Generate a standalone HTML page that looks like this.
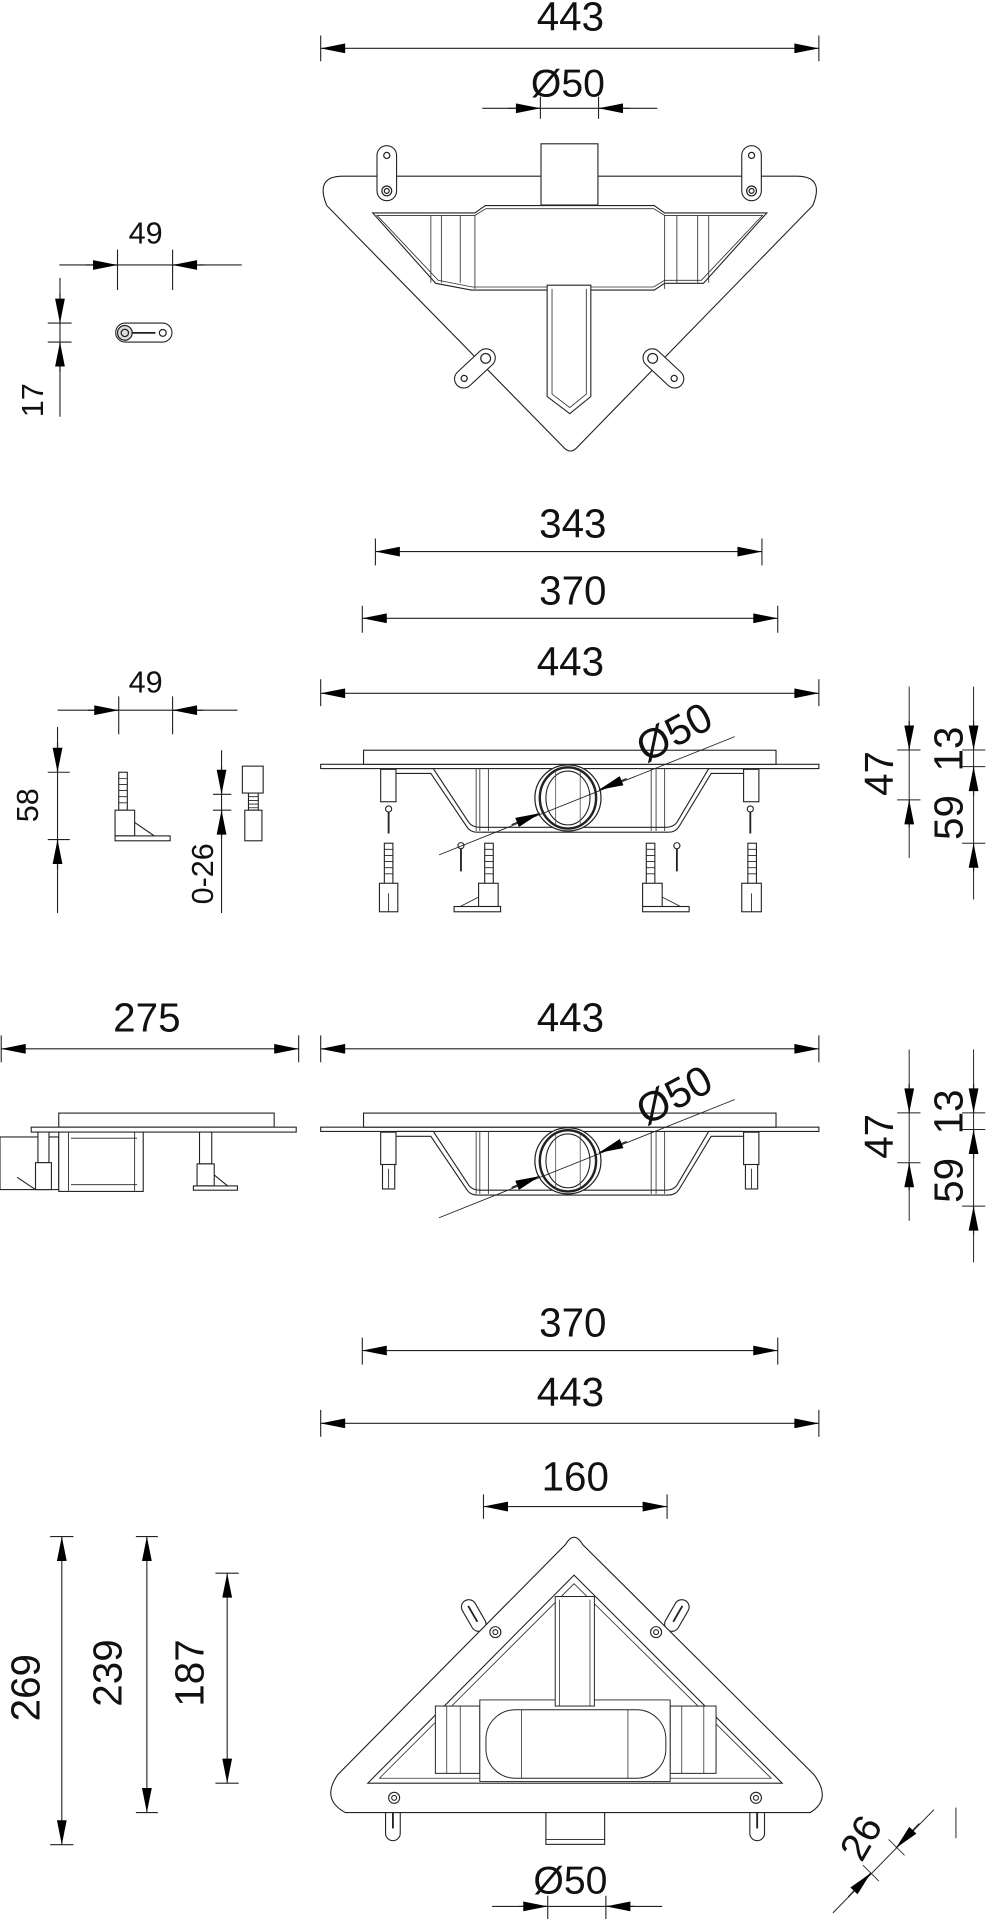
<!DOCTYPE html>
<html><head><meta charset="utf-8"><style>
html,body{margin:0;padding:0;background:#fff;}
svg{display:block;}
text{font-family:"Liberation Sans",Arial,sans-serif;fill:#111;}
</style></head><body>
<svg width="989" height="1919" viewBox="0 0 808 1568" preserveAspectRatio="none" xmlns="http://www.w3.org/2000/svg">
<defs>
<marker id="a" viewBox="0 0 10 4" refX="10" refY="2" markerWidth="23" markerHeight="8" markerUnits="userSpaceOnUse" orient="auto-start-reverse"><path d="M0,0L10,2L0,4z" fill="#000"/></marker>
<g id="body">
  <rect x="262" y="624.5" width="407" height="3.5" fill="#fff" stroke="#222" stroke-width="0.9"/>
  <rect x="297" y="613" width="337" height="11.5" fill="#fff" stroke="#222" stroke-width="0.9"/>
  <path d="M324,632 H352 L381,675 Q384,680 390,680 H546 Q552,680 555,675 L581,632 H607" fill="none" stroke="#222" stroke-width="0.9"/>
  <path d="M324,628 H354 L383,672 Q386,676 392,676 H544 Q550,676 553,672 L579,628 H607" fill="none" stroke="#222" stroke-width="0.9"/>
  <path d="M389,628V679M392,628V679M399,628V679M532,628V679M536,628V679M543,628V679" stroke="#333" stroke-width="0.7"/>
  <circle cx="464" cy="652" r="27" fill="#fff" stroke="#222" stroke-width="1"/>
  <ellipse cx="464" cy="652" rx="23" ry="25" fill="none" stroke="#222" stroke-width="2"/>
  <ellipse cx="464" cy="652" rx="18" ry="22" fill="#fff" stroke="#222" stroke-width="0.9"/>
  <path d="M454,630V674M474,630V674" stroke="#444" stroke-width="0.6"/>
  <rect x="311" y="628.6" width="12.5" height="26.5" fill="#fff" stroke="#222" stroke-width="0.9"/>
  <rect x="607.5" y="628.6" width="12.5" height="26.5" fill="#fff" stroke="#222" stroke-width="0.9"/>
</g>
</defs>

<!-- ============ SECTION 1 ============ -->
<text x="466" y="25" font-size="33" text-anchor="middle">443</text>
<path d="M262,29V50M669,29V50" stroke="#222" stroke-width="0.9"/>
<line x1="262" y1="39.5" x2="669" y2="39.5" stroke="#222" stroke-width="0.9" marker-start="url(#a)" marker-end="url(#a)"/>
<text x="464" y="79" font-size="32" text-anchor="middle">Ø50</text>
<path d="M441.5,79V97M489,79V97" stroke="#222" stroke-width="0.9"/>
<line x1="394" y1="88.5" x2="537" y2="88.5" stroke="#222" stroke-width="0.9"/>
<line x1="415" y1="88.5" x2="441.5" y2="88.5" stroke="#222" marker-end="url(#a)"/>
<line x1="515" y1="88.5" x2="489" y2="88.5" stroke="#222" marker-end="url(#a)"/>

<path d="M280,144 H651 Q674,144 664,168 L472,365 Q466,372 460,365 L267,168 Q257,144 280,144 Z" fill="#fff" stroke="#222" stroke-width="0.9"/>
<rect x="442" y="117.5" width="46.5" height="50" fill="#fff" stroke="#222" stroke-width="0.9"/>
<path d="M304.5,174 H388 L396.5,168 H534.5 L543,174 H626.5 L574.7,231.5 H543 L534.5,237 H385 L356,231.5 Z" fill="#fff" stroke="#222" stroke-width="0.9"/>
<path d="M308,176 H388 L397,170.5 H534 L543,176 H623 L573,229 H543 L534,234.5 H386 L358,229 Z" fill="none" stroke="#333" stroke-width="0.7"/>
<path d="M352,176V231M360.6,176V231M376,176V231M388,176V236M543,176V236M553,176V231M570,176V231M579,176V231" stroke="#333" stroke-width="0.7"/>
<path d="M447,233 V324 L465.5,338 L482.7,324 V233 Z" fill="#fff" stroke="#222" stroke-width="0.9"/>
<path d="M451,236 V322 L465.5,333 L479,322 V236" fill="none" stroke="#333" stroke-width="0.7"/>
<rect x="308" y="119" width="16" height="45" rx="8" fill="#fff" stroke="#222" stroke-width="0.9"/>
<circle cx="316" cy="127" r="2.5" fill="none" stroke="#222"/><circle cx="316" cy="156" r="4" fill="none" stroke="#222"/><circle cx="316" cy="156" r="2" fill="none" stroke="#222"/>
<rect x="606" y="119" width="16" height="45" rx="8" fill="#fff" stroke="#222" stroke-width="0.9"/>
<circle cx="614" cy="127" r="2.5" fill="none" stroke="#222"/><circle cx="614" cy="156" r="4" fill="none" stroke="#222"/><circle cx="614" cy="156" r="2" fill="none" stroke="#222"/>
<g transform="translate(388,301) rotate(-43)"><rect x="-20" y="-7.5" width="40" height="15" rx="7.5" fill="#fff" stroke="#222" stroke-width="0.9"/><circle cx="12" cy="0" r="4" fill="none" stroke="#222"/><circle cx="-12" cy="0" r="2.5" fill="none" stroke="#222"/></g>
<g transform="translate(542,301) rotate(43)"><rect x="-20" y="-7.5" width="40" height="15" rx="7.5" fill="#fff" stroke="#222" stroke-width="0.9"/><circle cx="-12" cy="0" r="4" fill="none" stroke="#222"/><circle cx="12" cy="0" r="2.5" fill="none" stroke="#222"/></g>

<!-- small part 49/17 -->
<text x="119" y="199" font-size="25" text-anchor="middle">49</text>
<path d="M96,204V237M141,204V237" stroke="#222" stroke-width="0.9"/>
<line x1="48.5" y1="216.5" x2="197.5" y2="216.5" stroke="#222" stroke-width="0.9"/>
<line x1="70" y1="216.5" x2="96" y2="216.5" stroke="#222" marker-end="url(#a)"/>
<line x1="167" y1="216.5" x2="141" y2="216.5" stroke="#222" marker-end="url(#a)"/>
<line x1="49" y1="227" x2="49" y2="340.5" stroke="#222" stroke-width="0.9"/>
<line x1="49" y1="240" x2="49" y2="264" stroke="#222" marker-end="url(#a)"/>
<line x1="49" y1="304" x2="49" y2="279.5" stroke="#222" marker-end="url(#a)"/>
<path d="M39,264H58.5M39,279.5H58.5" stroke="#222" stroke-width="0.9"/>
<text transform="translate(27,327) rotate(-90)" font-size="25" text-anchor="middle" dominant-baseline="central">17</text>
<rect x="94.5" y="264" width="46" height="15.5" rx="7.75" fill="#fff" stroke="#222" stroke-width="0.9"/>
<circle cx="102" cy="272" r="6" fill="#ddd" stroke="#222"/><circle cx="102" cy="272" r="3" fill="none" stroke="#222"/>
<circle cx="133" cy="272" r="2.8" fill="none" stroke="#222"/>
<path d="M108,272H127" stroke="#222" stroke-width="1.5"/>

<!-- ============ SECTION 2 ============ -->
<text x="468" y="439" font-size="33" text-anchor="middle">343</text>
<path d="M306.7,440V462M622.5,440V462" stroke="#222" stroke-width="0.9"/>
<line x1="306.7" y1="450.7" x2="622.5" y2="450.7" stroke="#222" stroke-width="0.9" marker-start="url(#a)" marker-end="url(#a)"/>
<text x="468" y="494" font-size="33" text-anchor="middle">370</text>
<path d="M296,495V517M635.4,495V517" stroke="#222" stroke-width="0.9"/>
<line x1="296" y1="505.2" x2="635.4" y2="505.2" stroke="#222" stroke-width="0.9" marker-start="url(#a)" marker-end="url(#a)"/>
<text x="466" y="552" font-size="33" text-anchor="middle">443</text>
<path d="M262,555V577M669,555V577" stroke="#222" stroke-width="0.9"/>
<line x1="262" y1="566.5" x2="669" y2="566.5" stroke="#222" stroke-width="0.9" marker-start="url(#a)" marker-end="url(#a)"/>

<use href="#body"/>
<g stroke="#222" stroke-width="0.9" fill="#fff">
  <path d="M317.5,662V681M613,662V681M376.6,692V712M553,692V712" stroke-width="1.5"/>
  <circle cx="317.5" cy="661" r="2.5"/><circle cx="613" cy="661" r="2.5"/><circle cx="376.6" cy="691" r="2.5"/><circle cx="553" cy="691" r="2.5"/>
  <rect x="314" y="689" width="7" height="33"/><rect x="396" y="689" width="7" height="33"/><rect x="528" y="689" width="7" height="33"/><rect x="611" y="689" width="7" height="33"/>
  <path d="M314,694H321M314,699H321M314,704H321M314,709H321M314,714H321M396,694H403M396,699H403M396,704H403M396,709H403M396,714H403M528,694H535M528,699H535M528,704H535M528,709H535M528,714H535M611,694H618M611,699H618M611,704H618M611,709H618M611,714H618" stroke-width="0.7"/>
  <rect x="310" y="721.7" width="15" height="23.3"/><rect x="606" y="721.7" width="16" height="23.3"/>
  <rect x="391" y="721.7" width="16" height="19"/><rect x="371" y="740.7" width="38" height="4.3"/>
  <rect x="525" y="721.7" width="16" height="19"/><rect x="525" y="740.7" width="38" height="4.3"/>
  <path d="M391,733L376,740.7M541,733L556,740.7M317.5,730V745M614,730V745" fill="none" stroke-width="0.7"/>
</g>
<line x1="358.7" y1="698.5" x2="600.3" y2="601.9" stroke="#222" stroke-width="0.7"/>
<line x1="418" y1="673.8" x2="441" y2="664.5" stroke="#222" marker-end="url(#a)"/>
<line x1="512" y1="636.2" x2="489.3" y2="645.4" stroke="#222" marker-end="url(#a)"/>
<text transform="translate(550.7,598) rotate(-28)" font-size="34" text-anchor="middle" dominant-baseline="central">Ø50</text>
<line x1="742.8" y1="561" x2="742.8" y2="701" stroke="#222" stroke-width="0.8"/>
<path d="M733,612.8H752M733,653.6H752" stroke="#222" stroke-width="0.8"/>
<line x1="742.8" y1="589" x2="742.8" y2="612.8" stroke="#222" marker-end="url(#a)"/>
<line x1="742.8" y1="676" x2="742.8" y2="653.6" stroke="#222" marker-end="url(#a)"/>
<text transform="translate(718,632) rotate(-90)" font-size="33" text-anchor="middle" dominant-baseline="central">47</text>
<line x1="795.4" y1="561" x2="795.4" y2="735" stroke="#222" stroke-width="0.8"/>
<path d="M786,612.8H805M786,626.4H805M786,689H805" stroke="#222" stroke-width="0.8"/>
<line x1="795.4" y1="589" x2="795.4" y2="612.8" stroke="#222" marker-end="url(#a)"/>
<line x1="795.4" y1="650" x2="795.4" y2="626.4" stroke="#222" marker-end="url(#a)"/>
<line x1="795.4" y1="712" x2="795.4" y2="689" stroke="#222" marker-end="url(#a)"/>
<text transform="translate(775,612) rotate(-90)" font-size="33" text-anchor="middle" dominant-baseline="central">13</text>
<text transform="translate(775,668) rotate(-90)" font-size="33" text-anchor="middle" dominant-baseline="central">59</text>

<text x="119" y="566" font-size="25" text-anchor="middle">49</text>
<path d="M97,569V600M141,569V600" stroke="#222" stroke-width="0.9"/>
<line x1="47" y1="580.3" x2="194" y2="580.3" stroke="#222" stroke-width="0.9"/>
<line x1="72" y1="580.3" x2="97" y2="580.3" stroke="#222" marker-end="url(#a)"/>
<line x1="166" y1="580.3" x2="141" y2="580.3" stroke="#222" marker-end="url(#a)"/>
<line x1="47" y1="594" x2="47" y2="746" stroke="#222" stroke-width="0.9"/>
<path d="M39,631H57M39,686H57" stroke="#222" stroke-width="0.9"/>
<line x1="47" y1="607" x2="47" y2="631" stroke="#222" marker-end="url(#a)"/>
<line x1="47" y1="710" x2="47" y2="686" stroke="#222" marker-end="url(#a)"/>
<text transform="translate(23,658) rotate(-90)" font-size="25" text-anchor="middle" dominant-baseline="central">58</text>
<g stroke="#222" stroke-width="0.9" fill="#fff">
  <rect x="97" y="631" width="7" height="31"/>
  <path d="M97,636H104M97,641H104M97,646H104M97,651H104M97,656H104" stroke-width="0.7"/>
  <rect x="94" y="662" width="16" height="21"/><rect x="94" y="683" width="45" height="4"/>
  <path d="M110,672L126,683" fill="none"/>
  <rect x="198" y="626" width="17" height="22"/><rect x="203" y="648" width="8" height="14"/>
  <path d="M203,651H211M203,654H211M203,657H211M203,660H211" stroke-width="0.7"/>
  <rect x="200" y="662" width="14" height="25"/>
</g>
<line x1="181" y1="613" x2="181" y2="746" stroke="#222" stroke-width="0.9"/>
<path d="M174,649H189M174,662H189" stroke="#222" stroke-width="0.9"/>
<line x1="181" y1="626" x2="181" y2="649" stroke="#222" marker-end="url(#a)"/>
<line x1="181" y1="685" x2="181" y2="662" stroke="#222" marker-end="url(#a)"/>
<text transform="translate(166,714) rotate(-90)" font-size="25" text-anchor="middle" dominant-baseline="central">0-26</text>

<!-- ============ SECTION 3 ============ -->
<text x="120" y="843" font-size="33" text-anchor="middle">275</text>
<path d="M1,846V868M244,846V868" stroke="#222" stroke-width="0.9"/>
<line x1="1" y1="857" x2="244" y2="857" stroke="#222" stroke-width="0.9" marker-start="url(#a)" marker-end="url(#a)"/>
<text x="466" y="843" font-size="33" text-anchor="middle">443</text>
<path d="M262,846V868M669,846V868" stroke="#222" stroke-width="0.9"/>
<line x1="262" y1="857" x2="669" y2="857" stroke="#222" stroke-width="0.9" marker-start="url(#a)" marker-end="url(#a)"/>

<g stroke="#222" stroke-width="0.9" fill="#fff">
  <rect x="48" y="909.5" width="176" height="11.5"/>
  <rect x="25.5" y="921" width="216.5" height="4"/>
  <rect x="0" y="929" width="48" height="43"/>
  <rect x="48" y="925" width="69" height="48.5"/>
  <path d="M58,930H112M58,968H112M56,925V973M110,925V973" fill="none" stroke-width="0.7"/>
  <rect x="31" y="925" width="9" height="25"/><rect x="29" y="950" width="13" height="22"/>
  <path d="M29,972L14,962" fill="none"/>
  <rect x="163" y="925" width="10" height="26"/><rect x="161" y="951" width="14" height="18"/><rect x="158" y="969" width="36" height="3.5"/>
  <path d="M175,960L186,969" fill="none"/>
</g>

<use href="#body" transform="translate(0,296.5)"/>
<g stroke="#222" stroke-width="0.9" fill="#fff">
  <rect x="312.5" y="951.5" width="10" height="20"/><rect x="609" y="951.5" width="10" height="20"/>
  <path d="M317.5,955V971M614,955V971" fill="none" stroke-width="0.7"/>
</g>
<line x1="358.7" y1="995" x2="600.3" y2="898.4" stroke="#222" stroke-width="0.7"/>
<line x1="418" y1="970.3" x2="441" y2="961" stroke="#222" marker-end="url(#a)"/>
<line x1="512" y1="932.7" x2="489.3" y2="941.9" stroke="#222" marker-end="url(#a)"/>
<text transform="translate(550.7,894.5) rotate(-28)" font-size="34" text-anchor="middle" dominant-baseline="central">Ø50</text>
<line x1="742.8" y1="857.5" x2="742.8" y2="997.5" stroke="#222" stroke-width="0.8"/>
<path d="M733,909.3H752M733,950.1H752" stroke="#222" stroke-width="0.8"/>
<line x1="742.8" y1="885.5" x2="742.8" y2="909.3" stroke="#222" marker-end="url(#a)"/>
<line x1="742.8" y1="972.5" x2="742.8" y2="950.1" stroke="#222" marker-end="url(#a)"/>
<text transform="translate(718,928.5) rotate(-90)" font-size="33" text-anchor="middle" dominant-baseline="central">47</text>
<line x1="795.4" y1="857.5" x2="795.4" y2="1031.5" stroke="#222" stroke-width="0.8"/>
<path d="M786,909.3H805M786,922.9H805M786,985.5H805" stroke="#222" stroke-width="0.8"/>
<line x1="795.4" y1="885.5" x2="795.4" y2="909.3" stroke="#222" marker-end="url(#a)"/>
<line x1="795.4" y1="946.5" x2="795.4" y2="922.9" stroke="#222" marker-end="url(#a)"/>
<line x1="795.4" y1="1008.5" x2="795.4" y2="985.5" stroke="#222" marker-end="url(#a)"/>
<text transform="translate(775,908.5) rotate(-90)" font-size="33" text-anchor="middle" dominant-baseline="central">13</text>
<text transform="translate(775,964.5) rotate(-90)" font-size="33" text-anchor="middle" dominant-baseline="central">59</text>

<!-- ============ SECTION 4 ============ -->
<text x="468" y="1092" font-size="33" text-anchor="middle">370</text>
<path d="M296,1093V1115M635.4,1093V1115" stroke="#222" stroke-width="0.9"/>
<line x1="296" y1="1103.5" x2="635.4" y2="1103.5" stroke="#222" stroke-width="0.9" marker-start="url(#a)" marker-end="url(#a)"/>
<text x="466" y="1149" font-size="33" text-anchor="middle">443</text>
<path d="M262,1152V1174M669,1152V1174" stroke="#222" stroke-width="0.9"/>
<line x1="262" y1="1163" x2="669" y2="1163" stroke="#222" stroke-width="0.9" marker-start="url(#a)" marker-end="url(#a)"/>
<text x="470" y="1218" font-size="33" text-anchor="middle">160</text>
<path d="M395,1221V1241M545,1221V1241" stroke="#222" stroke-width="0.9"/>
<line x1="395" y1="1231" x2="545" y2="1231" stroke="#222" stroke-width="0.9" marker-start="url(#a)" marker-end="url(#a)"/>

<g stroke="#222" stroke-width="0.9" fill="#fff">
  <g transform="translate(387,1320) rotate(-30)"><rect x="-6" y="-14" width="12" height="28" rx="6"/><path d="M0,-9V6" stroke-width="1.5"/></g>
  <g transform="translate(553,1320) rotate(30)"><rect x="-6" y="-14" width="12" height="28" rx="6"/><path d="M0,-9V6" stroke-width="1.5"/></g>
  <rect x="315" y="1474" width="12" height="30" rx="6"/><path d="M321,1478V1494" stroke-width="1.5"/>
  <rect x="612.6" y="1474" width="12" height="30" rx="6"/><path d="M618.6,1478V1494" stroke-width="1.5"/>
  <rect x="446" y="1478" width="48" height="29"/><path d="M446,1503H494" stroke-width="0.7"/>
</g>
<path d="M462,1262 Q469,1250 476,1262 L665,1450 Q680,1470 662,1481 H282 Q262,1470 276,1450 Z" fill="#fff" stroke="#222" stroke-width="0.9"/>
<path d="M469,1287 L639,1457 H300.5 Z" fill="#fff" stroke="#222" stroke-width="0.9"/>
<path d="M469,1294 L630,1453 H310 Z" fill="none" stroke="#333" stroke-width="0.7"/>
<g stroke="#222" stroke-width="0.8" fill="#fff">
  <rect x="355.7" y="1394" width="36.3" height="55"/>
  <rect x="547.5" y="1394" width="37.5" height="55"/>
  <path d="M365,1394V1449M376,1394V1449M557,1394V1449M575,1394V1449" fill="none" stroke-width="0.6"/>
  <path d="M392,1389H547.5V1455.6H392Z"/>
  <rect x="397" y="1397" width="147" height="56" rx="24"/>
  <rect x="453.6" y="1304.5" width="32" height="89.5"/>
  <path d="M457,1307V1394M482,1307V1394" fill="none" stroke-width="0.6"/>
  <path d="M426,1397V1453M513,1397V1453" fill="none" stroke-width="0.6"/>
</g>
<g fill="#fff" stroke="#222" stroke-width="0.9">
  <circle cx="404.7" cy="1333.6" r="4.5"/><circle cx="404.7" cy="1333.6" r="2"/>
  <circle cx="536" cy="1333.6" r="4.5"/><circle cx="536" cy="1333.6" r="2"/>
  <circle cx="322" cy="1469" r="4.5"/><circle cx="322" cy="1469" r="2"/>
  <circle cx="617.6" cy="1469" r="4.5"/><circle cx="617.6" cy="1469" r="2"/>
</g>

<text x="466" y="1547" font-size="32" text-anchor="middle">Ø50</text>
<path d="M447.5,1549V1568M495,1549V1568" stroke="#222" stroke-width="0.9"/>
<line x1="402" y1="1557.7" x2="541" y2="1557.7" stroke="#222" stroke-width="0.9"/>
<line x1="424" y1="1557.7" x2="447.5" y2="1557.7" stroke="#222" marker-end="url(#a)"/>
<line x1="518" y1="1557.7" x2="495" y2="1557.7" stroke="#222" marker-end="url(#a)"/>

<path d="M41,1255.5H60M41,1507.3H60M111,1255.5H129M111,1481H129M176,1285.4H195M176,1457H195" stroke="#222" stroke-width="0.9"/>
<line x1="50.5" y1="1255.5" x2="50.5" y2="1507.3" stroke="#222" stroke-width="0.9" marker-start="url(#a)" marker-end="url(#a)"/>
<line x1="120" y1="1255.5" x2="120" y2="1481" stroke="#222" stroke-width="0.9" marker-start="url(#a)" marker-end="url(#a)"/>
<line x1="185.6" y1="1285.4" x2="185.6" y2="1457" stroke="#222" stroke-width="0.9" marker-start="url(#a)" marker-end="url(#a)"/>
<text transform="translate(21,1379) rotate(-90)" font-size="33" text-anchor="middle" dominant-baseline="central">269</text>
<text transform="translate(88,1367) rotate(-90)" font-size="33" text-anchor="middle" dominant-baseline="central">239</text>
<text transform="translate(155,1367) rotate(-90)" font-size="33" text-anchor="middle" dominant-baseline="central">187</text>

<line x1="680.5" y1="1563" x2="763" y2="1478.7" stroke="#222" stroke-width="0.8"/>
<line x1="693" y1="1550" x2="711.4" y2="1530.5" stroke="#222" marker-end="url(#a)"/>
<line x1="751" y1="1490" x2="732" y2="1510" stroke="#222" marker-end="url(#a)"/>
<path d="M705,1524L718,1537M726,1503L739,1516" stroke="#222" stroke-width="0.7"/>
<line x1="781" y1="1477" x2="781" y2="1502" stroke="#222" stroke-width="0.8"/>
<text transform="translate(704,1502) rotate(-60)" font-size="32" text-anchor="middle" dominant-baseline="central">26</text>
</svg>
</body></html>
